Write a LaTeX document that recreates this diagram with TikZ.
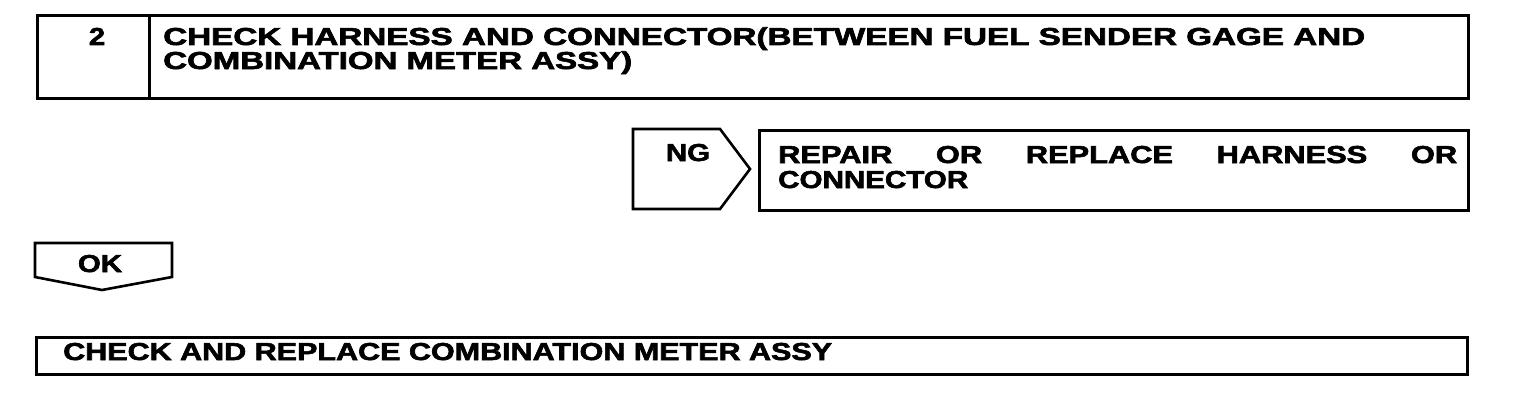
\documentclass[tikz,border=0pt]{standalone}
\usepackage{fontspec}
\setmainfont{Liberation Sans}
\newfontfamily\heavy[FakeBold=2.2]{Liberation Sans Bold}
\usepackage{graphicx}
\newcommand{\fitw}[2]{\resizebox{#1}{\height}{#2}}
\newcommand{\wtxt}[1]{\scalebox{1.2}[1]{#1}}
\begin{document}
\begin{tikzpicture}[x=1pt,y=-1pt,
  frame/.style={draw=black, line width=2.6pt},
  lbl/.style={inner sep=0pt, font=\heavy\fontsize{24.5}{26}\selectfont}]
\useasboundingbox[fill=white] (0,0) rectangle (1520,404);
% step header
\node[frame, anchor=north west, minimum width=112pt, minimum height=83pt] (num) at (36,14) {};
\node[frame, anchor=north west, minimum width=1319pt, minimum height=83pt] (title) at (148,14) {};
\node[lbl, anchor=base] (numtxt) at (97,45) {\wtxt{2}};
\node[lbl, anchor=base west] (t1) at (163,45) {\fitw{1202pt}{CHECK HARNESS AND CONNECTOR(BETWEEN FUEL SENDER GAGE AND}};
\node[lbl, anchor=base west] (t2) at (163,69) {\fitw{469pt}{COMBINATION METER ASSY)}};
% NG branch
\draw[frame, line join=miter] (633,129) -- (720,129) -- (750,169) -- (720,209) -- (633,209) -- cycle;
\node[lbl, anchor=base] (ng) at (688,161) {\wtxt{NG}};
\node[frame, anchor=north west, minimum width=709pt, minimum height=80pt] (repair) at (758,129) {};
\node[lbl, anchor=base west] (r1) at (778,163) {\fitw{679pt}{\makebox[540pt][s]{REPAIR\hfill OR\hfill REPLACE\hfill HARNESS\hfill OR}}};
\node[lbl, anchor=base west] (r2) at (778,188) {\fitw{190pt}{CONNECTOR}};
% OK branch
\draw[frame, line join=miter] (35,243) -- (172,243) -- (172,277) -- (102,290) -- (35,277) -- cycle;
\node[lbl, anchor=base] (ok) at (100,272) {\wtxt{OK}};
\node[frame, anchor=north west, minimum width=1431pt, minimum height=37pt] (final) at (35,336) {};
\node[lbl, anchor=base west] (ftxt) at (63,360) {\fitw{769pt}{CHECK AND REPLACE COMBINATION METER ASSY}};
\end{tikzpicture}
\end{document}
